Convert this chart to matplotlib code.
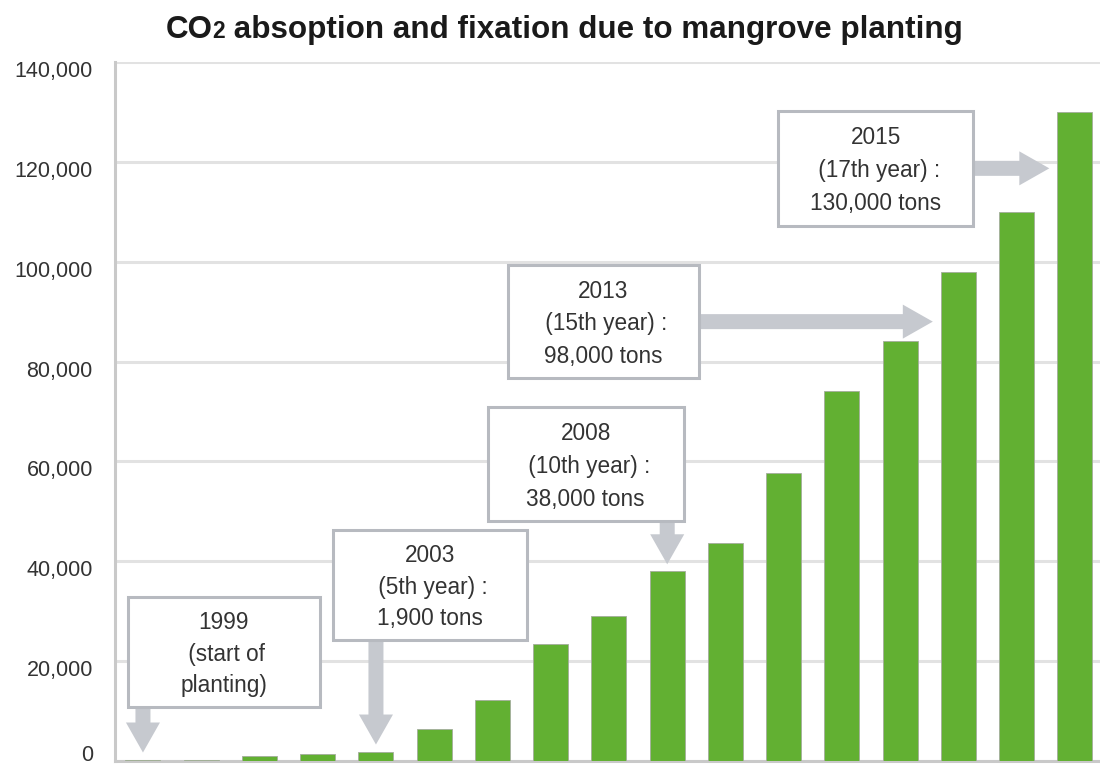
import matplotlib
matplotlib.use("Agg")
import matplotlib.pyplot as plt
import matplotlib.transforms as mtransforms
from matplotlib.patches import Rectangle, FancyArrowPatch
from matplotlib.ticker import FuncFormatter

plt.rcParams["font.family"] = ["Liberation Sans", "DejaVu Sans"]

# CO2 absorbed and fixed by the planted mangroves (tons, cumulative)
years = list(range(1999, 2016))
co2_tons = [300, 300, 1000, 1400, 1900, 6500, 12200, 23400, 29000,
            38000, 43700, 57700, 74200, 84100, 98000, 110000, 130000]
y_ticks = [0, 20000, 40000, 60000, 80000, 100000, 120000, 140000]

# Call-out boxes: the year each one points at and its three text lines
callout_years = [1999, 2003, 2008, 2013, 2015]
callout_lines = [
    ["1999", " (start of", "planting)"],
    ["2003", " (5th year) :", "1,900 tons"],
    ["2008", " (10th year) :", "38,000 tons"],
    ["2013", " (15th year) :", "98,000 tons"],
    ["2015", " (17th year) :", "130,000 tons"],
]
# box extents (x_left, x_right, y_top, y_bottom) and arrow direction
callout_boxes = [
    (-0.26, 3.04, 32800, 10800),
    (3.26, 6.59, 46300, 24200),
    (5.92, 9.28, 70900, 48000),
    (6.26, 9.55, 99300, 76700),
    (10.91, 14.25, 130200, 107200),
]
callout_dirs = ["down", "down", "down", "right", "right"]

BAR_GREEN = "#62b032"
ARROW_GREY = "#c6c9cf"
BOX_EDGE = "#b7bac0"
TEXT_DARK = "#333333"

W, H, DPI = 1100, 765, 100
fig = plt.figure(figsize=(W / DPI, H / DPI), dpi=DPI)
ax = fig.add_axes([115 / W, 4 / H, 1 - 115 / W, 699 / H])

x = list(range(len(years)))
ax.bar(x, co2_tons, width=0.6, color=BAR_GREEN, edgecolor="#a4ad9c",
       linewidth=0.6, zorder=3)

ax.set_xlim(-0.48, 16.43)
ax.set_ylim(0, 140000)
ax.set_yticks(y_ticks)
ax.yaxis.set_major_formatter(FuncFormatter(lambda v, p: f"{int(v):,}"))
ax.set_xticks([])
ax.tick_params(axis="y", length=0, pad=16, labelsize=15.5, labelcolor=TEXT_DARK)
ax.yaxis.grid(True, color="#e2e2e2", linewidth=2.2, zorder=0)
ax.set_axisbelow(True)
for side in ("top", "right"):
    ax.spines[side].set_visible(False)
for side in ("left", "bottom"):
    ax.spines[side].set_color("#c9c9c9")
    ax.spines[side].set_linewidth(2.2)

# nudge tick labels slightly below their gridlines; the bottom one sits up
# a little so it stays inside the figure
for v, lbl in zip(y_ticks, ax.get_yticklabels()):
    dy = 6 if v == 0 else -5
    off = mtransforms.ScaledTranslation(0, dy / 72, fig.dpi_scale_trans)
    lbl.set_transform(lbl.get_transform() + off)

# call-out boxes with block arrows
gap_y = 1400
gap_x = 0.14
bar_half = 0.3
line_fracs = [0.23, 0.52, 0.805]
for yr, lines, (x0, x1, yt, yb), d in zip(callout_years, callout_lines,
                                          callout_boxes, callout_dirs):
    i = years.index(yr)
    val = co2_tons[i]
    if d == "down":
        start = (i, yb)
        tip = (i, val + gap_y)
    else:
        yc = (yt + yb) / 2
        start = (x1, yc)
        tip = (i - bar_half - gap_x, yc)
    arrow = FancyArrowPatch(start, tip,
                            arrowstyle="simple,head_length=21.6,head_width=24.5,tail_width=10.8",
                            mutation_scale=1, shrinkA=0, shrinkB=0,
                            facecolor=ARROW_GREY, edgecolor="none", zorder=4)
    ax.add_patch(arrow)
    box = Rectangle((x0, yb), x1 - x0, yt - yb, facecolor="white",
                    edgecolor=BOX_EDGE, linewidth=2.2, zorder=5)
    ax.add_patch(box)
    xc = (x0 + x1) / 2
    for frac, s in zip(line_fracs, lines):
        ax.text(xc, yt - frac * (yt - yb), s, ha="center", va="center",
                fontsize=16.3, color=TEXT_DARK, zorder=6)

# title with a small "2" in CO2
renderer = fig.canvas.get_renderer()
title_parts = [("CO", 22.6), ("2", 16.5),
               (" absoption and fixation due to mangrove planting", 22.6)]
base_y = 1 - 38 / H
title_texts = []
widths = []
for s, fs in title_parts:
    t = fig.text(0, base_y, s, fontsize=fs, weight="bold", ha="left",
                 va="baseline", color="#1a1a1a")
    title_texts.append(t)
    widths.append(t.get_window_extent(renderer).width)
total = sum(widths)
cur = 564 - total / 2
for t, w in zip(title_texts, widths):
    t.set_x(cur / W)
    cur += w

fig.savefig("out.png", dpi=DPI)
